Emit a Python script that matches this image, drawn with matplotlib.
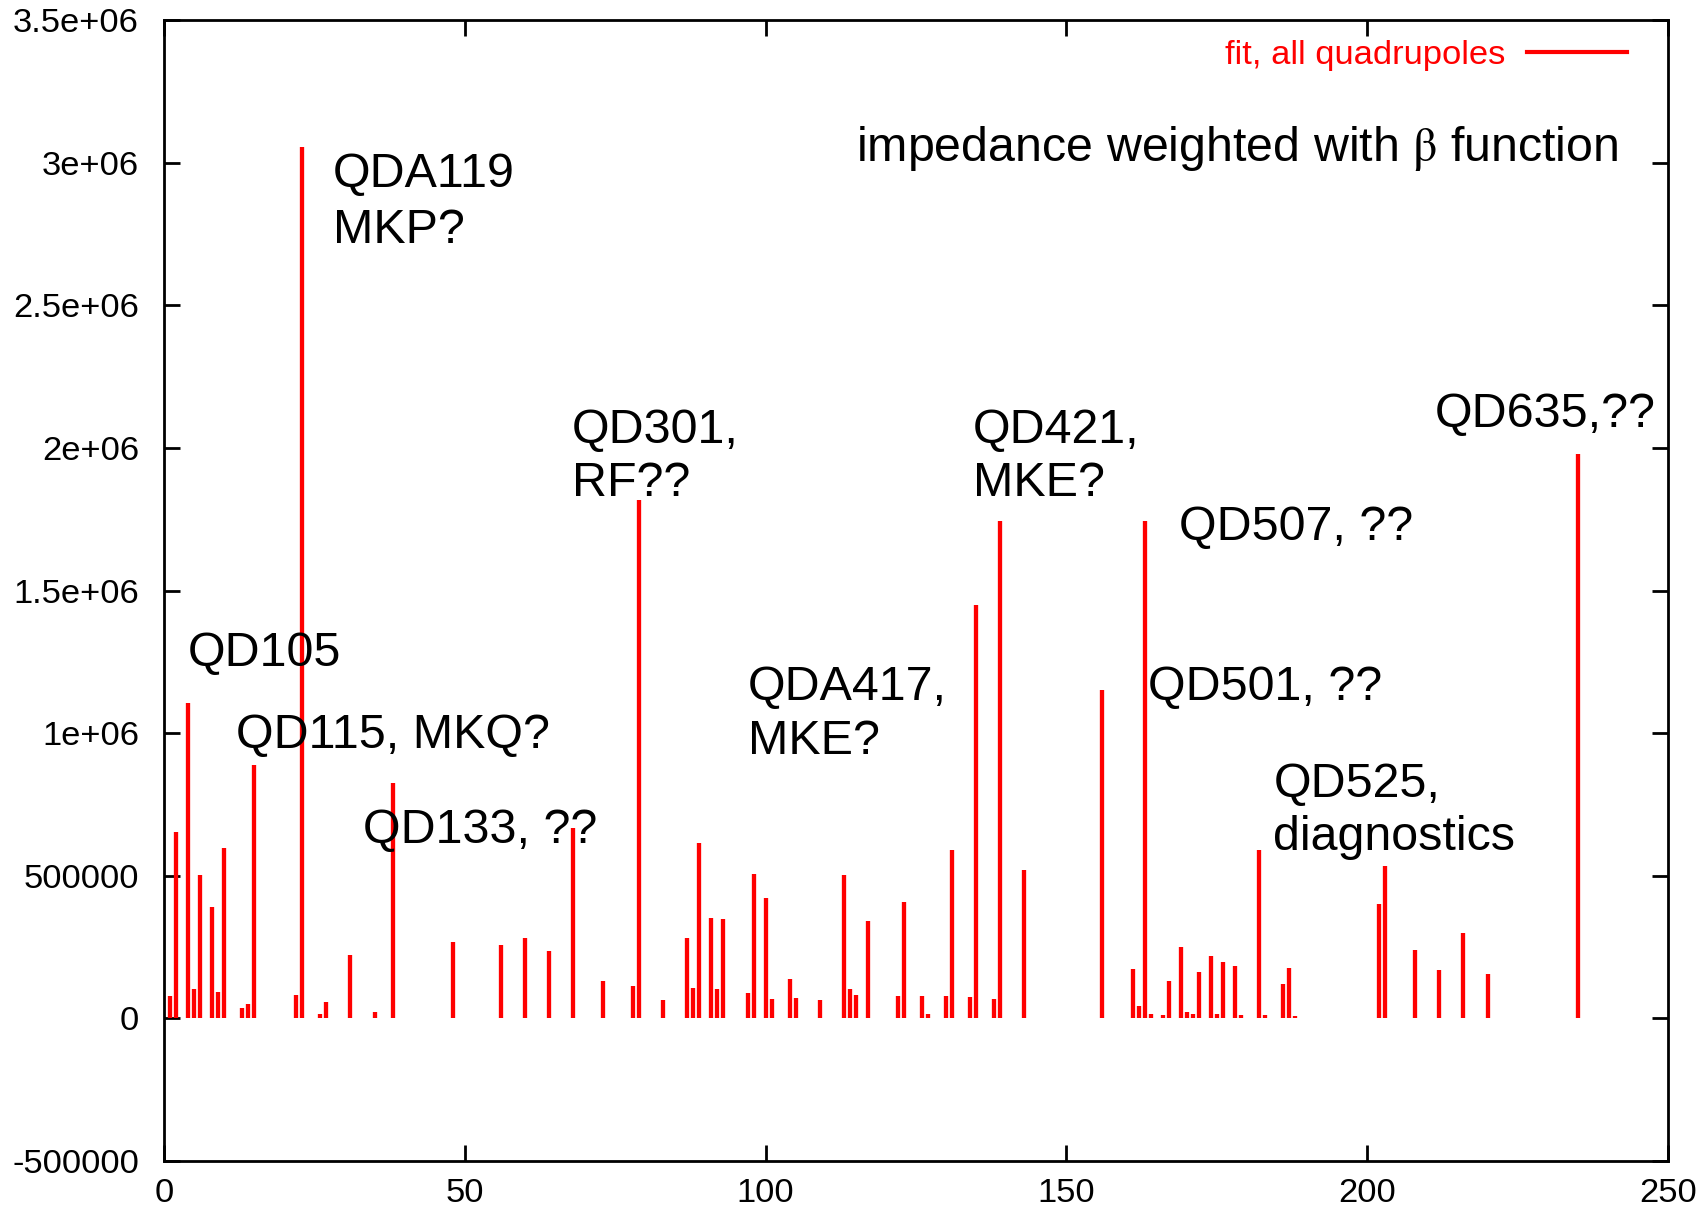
import matplotlib
matplotlib.use("Agg")
import matplotlib.pyplot as plt
from matplotlib.lines import Line2D

plt.rcParams['font.family'] = ['Liberation Sans', 'DejaVu Sans']
plt.rcParams['mathtext.fontset'] = 'stix'

# ---- data ----
positions = [1, 2, 4, 5, 6, 8, 9, 10, 13, 14, 15, 22, 23, 26, 27, 31, 35, 38, 48, 56,
             60, 64, 68, 73, 78, 79, 83, 87, 88, 89, 91, 92, 93, 97, 98, 100, 101, 104,
             105, 109, 113, 114, 115, 117, 122, 123, 126, 127, 130, 131, 134, 135, 138,
             139, 143, 156, 161, 162, 163, 164, 165, 166, 167, 169, 170, 171, 172, 174,
             175, 176, 178, 179, 182, 183, 186, 187, 188, 191, 196, 202, 203, 208, 212,
             216, 220, 235]
values = [78000, 652000, 1107000, 102000, 504000, 391000, 91000, 596000, 37000, 50000,
          888000, 81000, 3055000, 15000, 59000, 223000, 21000, 826000, 268000, 258000,
          283000, 237000, 667000, 132000, 114000, 1818000, 66000, 281000, 107000, 614000,
          352000, 104000, 347000, 88000, 506000, 422000, 69000, 138000, 73000, 66000,
          504000, 104000, 82000, 340000, 78000, 409000, 78000, 14000, 78000, 590000,
          76000, 1449000, 67000, 1745000, 520000, 1151000, 173000, 45000, 1745000, 14000,
          3000, 12000, 132000, 251000, 21000, 15000, 164000, 220000, 15000, 199000,
          185000, 12000, 590000, 12000, 121000, 176000, 10000, 2000, 2000, 400000,
          535000, 239000, 170000, 299000, 157000, 1977000]

series_label = "fit, all quadrupoles"
title_text = r"impedance weighted with $\mathrm{\beta}$ function"

x_ticks = [0, 50, 100, 150, 200, 250]
y_ticks = [-500000, 0, 500000, 1000000, 1500000, 2000000, 2500000, 3000000, 3500000]
y_tick_labels = ["-500000", "0", "500000", "1e+06", "1.5e+06", "2e+06", "2.5e+06",
                 "3e+06", "3.5e+06"]

# annotations: (lines, x, baseline y for each line)
annotations = [
    (["QDA119", "MKP?"], 28.1, [2913500, 2717000]),
    (["QD105"], 4.0, [1235000]),
    (["QD115, MKQ?"], 11.96, [949000]),
    (["QD133, ??"], 33.1, [613500]),
    (["QD301,", "RF??"], 67.8, [2016000, 1832000]),
    (["QDA417,", "MKE?"], 97.0, [1116600, 925500]),
    (["QD421,", "MKE?"], 134.4, [2016000, 1832000]),
    (["QD507, ??"], 168.7, [1677000]),
    (["QD501, ??"], 163.5, [1116600]),
    (["QD525,", "diagnostics"], 184.4, [777000, 590000]),
    (["QD635,??"], 211.2, [2074000]),
]

# ---- figure ----
fig = plt.figure(figsize=(17.05, 12.21), dpi=100)
ax = fig.add_axes([164 / 1705, 1 - 1161 / 1221, 1504 / 1705, 1141 / 1221])

red = "#ff0000"
ax.vlines(positions, 0, values, colors=red, linewidth=3.1, capstyle='butt')

ax.set_xlim(0, 250)
ax.set_ylim(-500000, 3500000)
ax.set_xticks(x_ticks)
ax.set_xticklabels([str(t) for t in x_ticks])
ax.set_yticks(y_ticks)
ax.set_yticklabels(y_tick_labels)

for s in ax.spines.values():
    s.set_linewidth(2.0)
    s.set_color("black")

ax.tick_params(axis='both', which='major', direction='in', length=11.5, width=2.0,
               top=True, right=True, labelsize=24.8, colors='black')
ax.tick_params(axis='x', pad=12)
ax.tick_params(axis='y', pad=18)

# annotations
for lines, x, ys in annotations:
    for line, y in zip(lines, ys):
        ax.text(x, y, line, fontsize=34.8, ha='left', va='baseline', color='black')

ax.text(115.1, 3004000, title_text, fontsize=34.8, ha='left', va='baseline',
        color='black')

# legend
handle = Line2D([0], [0], color=red, linewidth=3.0)
leg = ax.legend([handle], [series_label], loc='center right',
                bbox_to_anchor=(0.9727, 0.969), frameon=False, markerfirst=False,
                fontsize=24.8, handlelength=2.9, handletextpad=0.64, borderpad=0,
                borderaxespad=0)
for t in leg.get_texts():
    t.set_color(red)

fig.savefig("out.png", dpi=100)
